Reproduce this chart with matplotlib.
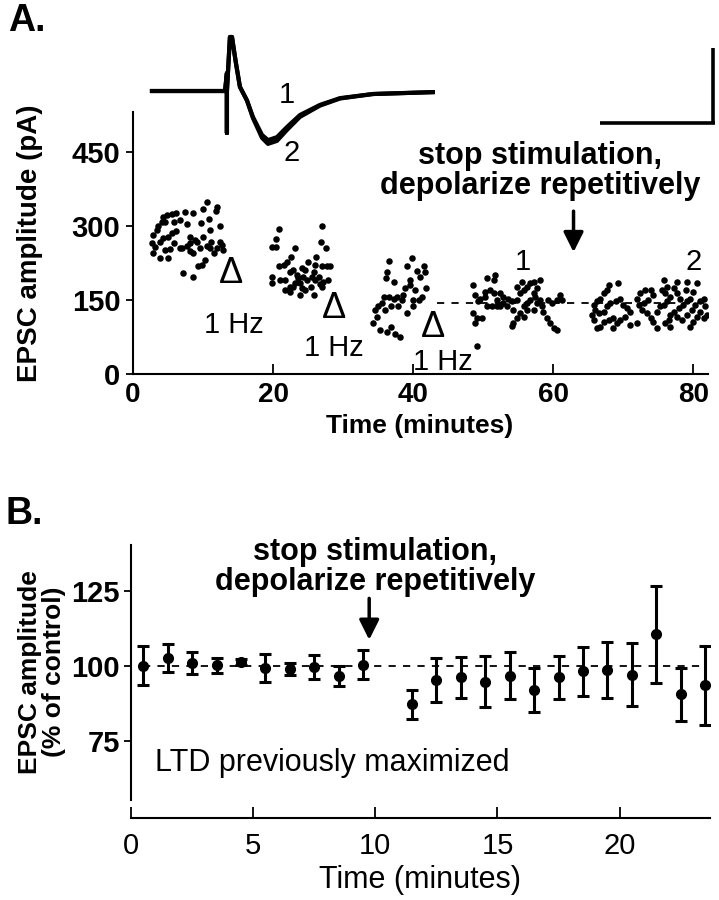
import matplotlib
matplotlib.use("Agg")
import matplotlib.pyplot as plt

plt.rcParams['font.family'] = ['Liberation Sans', 'DejaVu Sans']

# ---- panel A: example EPSC traces (time in ms, current in pA)
trace_t = [0, 6.35, 6.52, 6.52, 6.52, 6.78, 6.96, 7.13, 7.30, 7.65, 8.26, 8.78,
           9.57, 10.09, 10.87, 11.74, 12.87, 14.61, 16.35, 19.22, 24.43]
trace_1 = [0, 0, 48, -112, 0, 144, 144, 109, 75, 11, -25, -69,
           -117, -131, -123, -96, -64, -37, -19, -8, -3]
trace_2 = [0, 0, 48, -112, 0, 144, 144, 109, 75, 11, -25, -72,
           -125, -141, -133, -104, -69, -39, -20, -8, -3]
scalebar_ms = 10
scalebar_pA = 200

# ---- panel A: EPSC amplitude scatter (minutes, pA)
g1_t = [10.5, 12.0, 11.9, 9.95, 8.6, 7.4, 6.2, 5.5, 4.8, 4.3, 4.1, 3.6, 3.4, 4.6, 5.8,
        6.7, 7.7, 9.7, 10.8, 12.4, 11.0, 10.0, 9.1, 8.1, 7.7, 6.7, 6.1, 5.5, 5.0, 4.3,
        3.9, 2.9, 2.7, 3.1, 2.9, 3.9, 5.0, 4.6, 5.3, 5.8, 7.0, 8.1, 8.6, 9.6, 10.5,
        11.2, 12.4, 12.0, 11.5, 12.9, 10.3, 9.8, 9.3, 8.6, 7.2, 12.7, 11.0, 8.1, 8.9]
g1_a = [349, 339, 331, 334, 326, 329, 327, 324, 322, 318, 309, 299, 292, 309, 309,
        312, 305, 307, 314, 299, 291, 278, 268, 266, 259, 255, 289, 286, 278, 275,
        268, 282, 265, 257, 246, 235, 236, 251, 253, 265, 255, 250, 245, 255, 259,
        268, 268, 255, 245, 251, 231, 221, 218, 197, 204, 262, 255, 277, 272]
g2_t = [20.9, 20.4, 19.8, 20.4, 23.1, 27.0, 26.9, 27.6, 22.0, 21.5, 20.9, 22.5, 19.8,
        19.9, 21.0, 21.7, 22.4, 22.9, 23.4, 24.1, 24.6, 25.0, 26.0, 26.2, 27.0, 27.7,
        28.1, 21.7, 22.4, 23.1, 23.9, 24.1, 24.8, 25.5, 26.0, 26.7, 27.2, 27.9, 22.4,
        23.9, 24.6, 25.8, 27.0, 22.9, 25.4, 26.5, 23.6, 24.3, 25.8]
g2_a = [294, 273, 258, 258, 255, 299, 268, 255, 228, 221, 219, 238, 197,
        184, 191, 191, 207, 211, 201, 214, 211, 228, 221, 238, 218, 218,
        218, 170, 177, 185, 184, 174, 191, 197, 191, 182, 187, 191, 167,
        160, 170, 160, 177, 177, 177, 197, 194, 197, 207]
g3_t = [36.6, 39.8, 39.1, 36.2, 36.1, 37.2, 40.5, 41.5, 41.7, 41.0, 39.6, 39.6, 38.9,
        38.6, 38.4, 37.7, 37.2, 36.5, 35.8, 35.5, 35.0, 34.6, 34.8, 34.3, 35.3, 36.2,
        36.9, 37.4, 38.1, 40.0, 40.8, 41.2, 41.9, 40.3, 39.1, 37.9, 40.0, 36.0, 36.9]
g3_a = [229, 236, 219, 207, 194, 187, 209, 218, 207, 197, 191, 180, 174,
        160, 150, 157, 153, 157, 157, 143, 137, 130, 116, 103, 89, 86,
        96, 82, 76, 137, 150, 157, 174, 170, 123, 137, 150, 130, 138]
g4_t = [49.1, 48.6, 50.5, 51.5, 51.7, 48.9, 49.6, 49.3, 50.3, 51.0, 51.5, 52.0, 52.4,
        52.9, 53.6, 54.1, 54.8, 55.3, 55.8, 56.2, 56.7, 57.2, 58.1, 57.7, 57.2, 56.7,
        56.2, 55.8, 55.3, 54.8, 54.3, 54.1, 55.8, 56.2, 57.2, 57.7, 58.4, 58.6, 59.3,
        59.8, 60.5, 61.0, 61.2, 59.1, 59.6, 60.1, 60.5, 58.1, 57.4, 48.6, 49.1, 49.8,
        48.9, 51.2, 52.0, 53.4, 54.3, 50.5, 52.4, 54.8, 55.5, 52.9, 50.3]
g4_a = [57, 180, 194, 191, 201, 160, 153, 147, 157, 170, 164, 150, 137,
        157, 153, 147, 150, 164, 170, 176, 184, 187, 191, 174, 164, 150,
        143, 137, 123, 113, 103, 97, 116, 130, 130, 143, 137, 126, 150,
        143, 150, 160, 150, 113, 103, 93, 89, 150, 157, 123, 113, 113,
        103, 137, 137, 137, 130, 137, 164, 177, 187, 143, 167]
g5_t = [68.0, 69.3, 67.7, 67.2, 66.7, 66.2, 65.8, 66.0, 66.5, 67.2, 67.7, 68.1, 68.9,
        69.6, 70.0, 70.5, 71.0, 70.3, 69.6, 69.1, 68.6, 67.9, 67.2, 66.7, 65.8, 65.5,
        71.9, 72.4, 73.1, 73.9, 74.3, 73.6, 72.9, 72.2, 72.7, 73.4, 73.9, 74.3, 74.8,
        75.3, 75.8, 76.3, 76.7, 76.0, 75.5, 76.3, 77.2, 77.7, 78.1, 78.9, 79.1, 80.5,
        80.0, 79.6, 79.1, 78.6, 77.9, 77.2, 76.7, 76.5, 76.0, 77.7, 78.4, 79.1, 79.8,
        80.3, 81.0, 81.5, 81.7, 81.0, 80.5, 80.0, 81.5, 81.9, 79.6, 76.7, 74.8, 71.9,
        71.0, 68.6, 66.2, 75.8, 77.7]
g5_a = [180, 185, 170, 164, 153, 147, 140, 130, 123, 126, 137, 143, 147,
        153, 140, 133, 126, 116, 109, 103, 113, 109, 106, 96, 109, 120,
        153, 164, 170, 170, 160, 150, 143, 140, 130, 123, 113, 106, 126,
        137, 140, 147, 157, 164, 170, 177, 174, 164, 153, 170, 187, 184,
        167, 153, 147, 140, 133, 126, 120, 109, 103, 116, 109, 120, 130,
        140, 147, 153, 137, 126, 116, 106, 113, 120, 96, 96, 93, 103,
        99, 93, 93, 191, 187]
baseline_a = 144
baseline_span_a = (43.4, 82.0)
hz_labels = [(14.4, 99), (28.7, 53), (44.3, 24)]
hz_triangles = [(14.0, 203), (28.7, 132), (42.9, 95)]

# ---- panel B: normalised EPSC amplitude (mean +/- sem)
b_t = [0.5, 1.5, 2.5, 3.5, 4.5, 5.5, 6.5, 7.5, 8.5, 9.5, 11.5, 12.5,
       13.5, 14.5, 15.5, 16.5, 17.5, 18.5, 19.5, 20.5, 21.5, 22.5, 23.5]
b_mean = [100.0, 102.6, 101.0, 100.3, 101.3, 99.3, 98.9, 99.5, 96.7, 100.4, 87.2, 95.2,
          96.2, 94.8, 96.7, 92.0, 96.2, 98.2, 98.6, 97.1, 110.5, 90.6, 93.6]
b_err = [6.5, 4.6, 3.8, 2.5, 1.0, 4.7, 2.0, 4.0, 3.4, 4.8, 4.9, 7.3,
         6.9, 8.5, 7.8, 7.4, 7.1, 8.2, 9.4, 10.5, 16.3, 8.8, 13.2]

W, H = 719, 900


def rect(x0, y0, x1, y1):
    return [x0 / W, 1 - y1 / H, (x1 - x0) / W, (y1 - y0) / H]


fig = plt.figure(figsize=(7.19, 9.0), dpi=100)

# ---------------- panel A ----------------
ax = fig.add_axes(rect(133, 112, 708, 374))
for gt, ga in [(g1_t, g1_a), (g2_t, g2_a), (g3_t, g3_a), (g4_t, g4_a), (g5_t, g5_a)]:
    ax.scatter(gt, ga, s=22, color='k', linewidths=0, zorder=3)
ax.plot(baseline_span_a, [baseline_a, baseline_a], color='k', lw=1.3,
        dashes=(4, 4))
ax.set_xlim(0, 82.1)
ax.set_ylim(0, 531)
ax.set_xticks([0, 20, 40, 60, 80])
ax.set_yticks([0, 150, 300, 450])
for s in ['top', 'right']:
    ax.spines[s].set_visible(False)
for s in ['left', 'bottom']:
    ax.spines[s].set_linewidth(1.5)
ax.tick_params(axis='y', direction='out', length=5, width=1.3, pad=4,
               labelsize=21)
ax.tick_params(axis='x', direction='in', length=7, width=1.3, pad=6,
               labelsize=20)
for lb in ax.get_xticklabels() + ax.get_yticklabels():
    lb.set_fontweight('bold')
fig.text(420 / W, 1 - 426 / H, 'Time (minutes)', fontsize=19,
         fontweight='bold', ha='center', va='center')
fig.text(30 / W, 1 - 243 / H, 'EPSC amplitude (pA)', fontsize=20,
         fontweight='bold', ha='center', va='center', rotation=90)

for x, y in hz_triangles:
    ax.text(x, y, 'Δ', fontsize=26, ha='center', va='center')
for x, y in hz_labels:
    ax.text(x, y, '1 Hz', fontsize=21, ha='center', va='center')
ax.text(55.7, 227, '1', fontsize=21, ha='center', va='center')
ax.text(80.0, 227, '2', fontsize=21, ha='center', va='center')
ax.text(58.1, 411, 'stop stimulation,\ndepolarize repetitively', fontsize=22,
        fontweight='bold', ha='center', va='center', linespacing=1.0)
ax.annotate('', xy=(62.9, 247), xytext=(62.9, 330),
            arrowprops=dict(arrowstyle='-|>', color='k', lw=2.5,
                            mutation_scale=30, shrinkA=0, shrinkB=0))

# trace inset with scale bar
tr = fig.add_axes(rect(140, 30, 720, 150))
tr.plot(trace_t, trace_2, color='k', lw=3, solid_joinstyle='round')
tr.plot(trace_t, trace_1, color='k', lw=3, solid_joinstyle='round')
tr.plot([49 - scalebar_ms, 49], [-85, -85], color='k', lw=2.6,
        solid_capstyle='butt')
tr.plot([48.8, 48.8], [-85, -85 + scalebar_pA], color='k', lw=2.6,
        solid_capstyle='butt')
tr.set_xlim(-1.04, 49.4)
tr.set_ylim(-157.3, 162.7)
tr.axis('off')
fig.text(287 / W, 1 - 95 / H, '1', fontsize=21, ha='center', va='center')
fig.text(292 / W, 1 - 153 / H, '2', fontsize=21, ha='center', va='center')

fig.text(27 / W, 1 - 21 / H, 'A.', fontsize=27, fontweight='bold',
         ha='center', va='center')

# ---------------- panel B ----------------
bx = fig.add_axes(rect(131, 545, 710, 818))
bx.plot([b_t[0], b_t[-1]], [100, 100], color='k', lw=1.3, dashes=(4, 4),
        zorder=1)
bx.errorbar(b_t, b_mean, yerr=b_err, fmt='o', color='k', ms=7,
            elinewidth=2.2, capsize=4, capthick=2.2, zorder=3)
bx.set_xlim(0, 23.7)
bx.set_ylim(49.3, 140.3)
bx.spines['left'].set_bounds(55.3, 140.3)
bx.set_xticks([0, 5, 10, 15, 20])
bx.set_yticks([75, 100, 125])
for s in ['top', 'right']:
    bx.spines[s].set_visible(False)
for s in ['left', 'bottom']:
    bx.spines[s].set_linewidth(1.5)
bx.tick_params(axis='y', direction='out', length=5, width=1.3, pad=3,
               labelsize=21)
bx.tick_params(axis='x', direction='in', length=8, width=1.3, pad=10,
               labelsize=21)
for lb in bx.get_yticklabels():
    lb.set_fontweight('bold')
fig.text(420 / W, 1 - 880 / H, 'Time (minutes)', fontsize=22,
         ha='center', va='center')
fig.text(42 / W, 1 - 672 / H, 'EPSC amplitude\n(% of control)', fontsize=19,
         fontweight='bold', ha='center', va='center', rotation=90,
         linespacing=1.0)
bx.text(1.0, 67.7, 'LTD previously maximized', fontsize=22,
        ha='left', va='center')
bx.text(10.0, 133, 'stop stimulation,\ndepolarize repetitively', fontsize=22,
        fontweight='bold', ha='center', va='center', linespacing=1.0)
bx.annotate('', xy=(9.75, 108.7), xytext=(9.75, 122.5),
            arrowprops=dict(arrowstyle='-|>', color='k', lw=2.5,
                            mutation_scale=30, shrinkA=0, shrinkB=0))

fig.text(24 / W, 1 - 514 / H, 'B.', fontsize=27, fontweight='bold',
         ha='center', va='center')

fig.savefig('out.png', dpi=100)
